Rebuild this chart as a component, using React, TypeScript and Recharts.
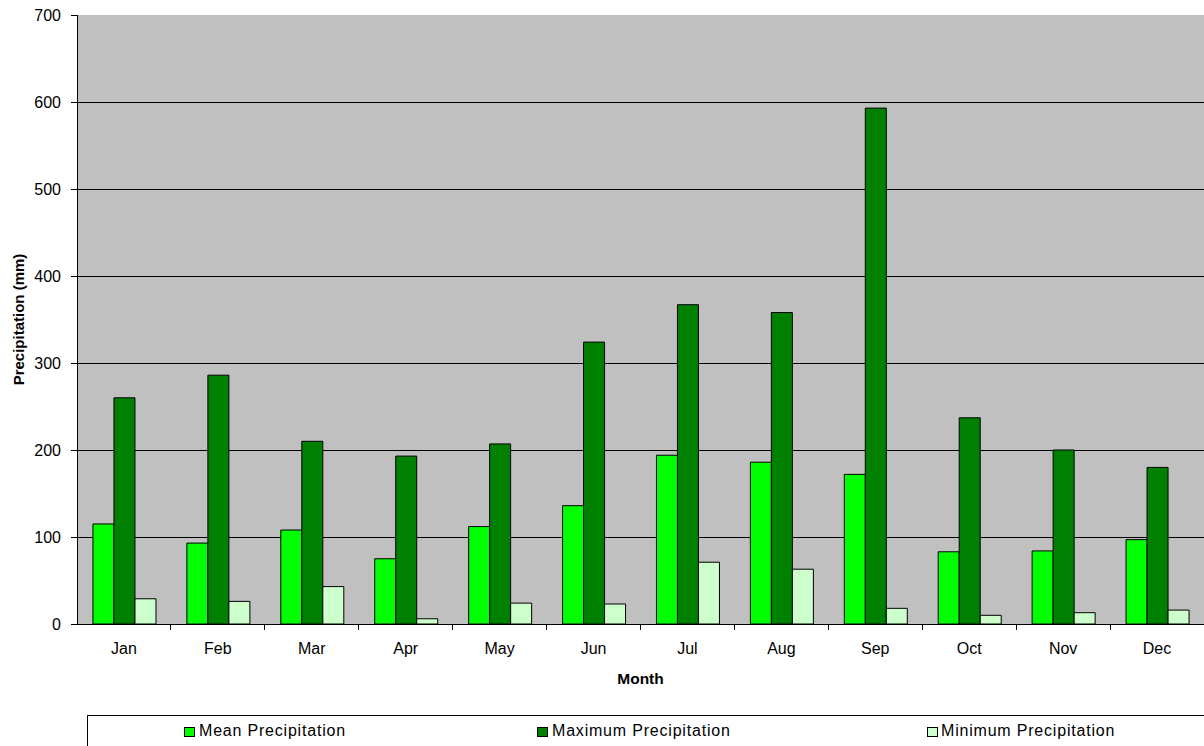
import React from "react";
import { BarChart, Bar, XAxis, YAxis, CartesianGrid, Legend } from "recharts";

const months = ["Jan", "Feb", "Mar", "Apr", "May", "Jun", "Jul", "Aug", "Sep", "Oct", "Nov", "Dec"];
const meanPrecip = [115, 93, 108, 75, 112, 136, 194, 186, 172, 83, 84, 97];
const maxPrecip = [260, 286, 210, 193, 207, 324, 367, 358, 593, 237, 200, 180];
const minPrecip = [29, 26, 43, 6, 24, 23, 71, 63, 18, 10, 13, 16];
const yTicks = [0, 100, 200, 300, 400, 500, 600, 700];
const gridValues = [100, 200, 300, 400, 500, 600];
const seriesOrder = ["mean", "max", "min"];

const data = months.map((m, i) => ({
  month: m,
  mean: meanPrecip[i],
  max: maxPrecip[i],
  min: minPrecip[i],
}));

const FONT = "'Liberation Sans', Arial, sans-serif";

const MonthTick = (props: any) => {
  const { x, y, payload, width, visibleTicksCount } = props;
  const half =
    payload && typeof payload.offset === "number" && payload.offset > 0
      ? payload.offset
      : width / visibleTicksCount / 2;
  const axisY = y - 19;
  return (
    <g>
      <line x1={x + half} x2={x + half} y1={axisY} y2={axisY + 6} stroke="#000" strokeWidth={1} shapeRendering="crispEdges" />
      <text x={x} y={y} dy="0.71em" textAnchor="middle" fill="#000" fontSize={16} fontFamily={FONT}>
        {payload.value}
      </text>
    </g>
  );
};

const YLabel = (props: any) => {
  const vb = props.viewBox || { x: 0, y: 0, width: 0, height: 0 };
  const cx = vb.x + 18;
  const cy = vb.y + vb.height / 2;
  return (
    <text
      x={cx}
      y={cy}
      transform={`rotate(-90 ${cx} ${cy})`}
      textAnchor="middle"
      dominantBaseline="central"
      fontWeight="bold"
      fontSize={15}
      fontFamily={FONT}
      fill="#000"
    >
      Precipitation (mm)
    </text>
  );
};

const XLabel = (props: any) => {
  const vb = props.viewBox || { x: 0, y: 0, width: 0, height: 0 };
  return (
    <text
      x={vb.x + vb.width / 2}
      y={vb.y + 60}
      textAnchor="middle"
      fontWeight="bold"
      fontSize={15.5}
      fontFamily={FONT}
      fill="#000"
    >
      Month
    </text>
  );
};

const legendSquareLeft = [96, 449, 839];
const legendTextLeft = [111, 464, 853];

const LegendBox = (props: any) => {
  const raw = props.payload || [];
  const payload = seriesOrder
    .map((k) => raw.find((e: any) => e.dataKey === k))
    .filter(Boolean);
  return (
    <div
      style={{
        position: "relative",
        boxSizing: "border-box",
        height: 31,
        marginLeft: 87,
        width: 1117,
        borderTop: "1px solid #000",
        borderLeft: "1px solid #000",
        fontFamily: FONT,
      }}
    >
      {payload.map((entry: any, i: number) => (
        <React.Fragment key={entry.value}>
          <span
            style={{
              position: "absolute",
              left: legendSquareLeft[i],
              top: 11,
              width: 11,
              height: 10,
              boxSizing: "border-box",
              background: entry.color,
              border: "1px solid #000",
            }}
          />
          <span
            style={{
              position: "absolute",
              left: legendTextLeft[i],
              top: 7,
              fontSize: 16,
              lineHeight: "16px",
              letterSpacing: "0.8px",
              whiteSpace: "nowrap",
              color: "#000",
            }}
          >
            {entry.value}
          </span>
        </React.Fragment>
      ))}
    </div>
  );
};

export default function App() {
  return (
    <div
      style={{
        position: "absolute",
        left: 0,
        top: 0,
        width: 1204,
        height: 746,
        overflow: "hidden",
        background: "#fff",
        fontFamily: FONT,
      }}
    >
      <BarChart
        width={1204}
        height={746}
        data={data}
        margin={{ top: 15, right: 0, left: 0, bottom: 0 }}
        barCategoryGap="17%"
        barGap={0}
      >
        <CartesianGrid
          vertical={false}
          horizontalValues={gridValues}
          stroke="#000"
          strokeOpacity={1}
          fill="#C0C0C0"
          fillOpacity={1}
          shapeRendering="crispEdges"
        />
        <XAxis
          dataKey="month"
          interval={0}
          tickLine={false}
          tickSize={6}
          tickMargin={13}
          height={91}
          axisLine={{ stroke: "#000", shapeRendering: "crispEdges" }}
          tick={<MonthTick />}
          label={<XLabel />}
        />
        <YAxis
          domain={[0, 700]}
          ticks={yTicks}
          interval={0}
          width={77}
          tickSize={6}
          tickMargin={10}
          axisLine={{ stroke: "#000", shapeRendering: "crispEdges" }}
          tickLine={{ stroke: "#000", shapeRendering: "crispEdges" }}
          tick={{ fill: "#000", fontSize: 16, fontFamily: FONT }}
          label={<YLabel />}
        />
        <Legend
          verticalAlign="bottom"
          align="left"
          content={<LegendBox />}
          wrapperStyle={{ left: 0, width: 1204 }}
        />
        <Bar dataKey="mean" name="Mean Precipitation" fill="#00FF00" stroke="#000" strokeWidth={1} isAnimationActive={false} />
        <Bar dataKey="max" name="Maximum Precipitation" fill="#008000" stroke="#000" strokeWidth={1} isAnimationActive={false} />
        <Bar dataKey="min" name="Minimum Precipitation" fill="#CCFFCC" stroke="#000" strokeWidth={1} isAnimationActive={false} />
      </BarChart>
    </div>
  );
}
